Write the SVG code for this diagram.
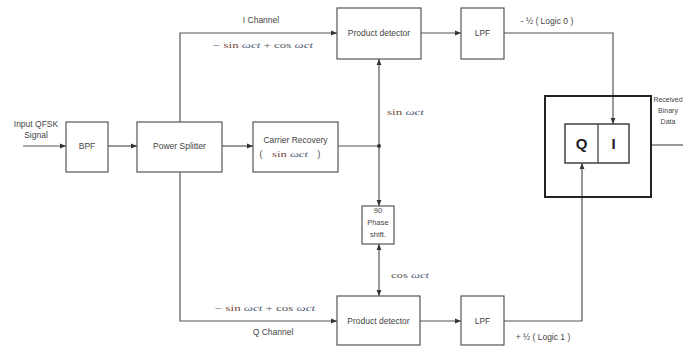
<svg xmlns="http://www.w3.org/2000/svg" width="683" height="347" viewBox="0 0 683 347">
<defs>
<marker id="ah" viewBox="0 0 10 10" refX="10" refY="5" markerWidth="6" markerHeight="6" orient="auto-start-reverse" markerUnits="userSpaceOnUse">
<path d="M0,1 L10,5 L0,9 z" fill="#333"/>
</marker>
<style>
.box{fill:#fff;stroke:#555;stroke-width:1.2}
.big{fill:none;stroke:#222;stroke-width:2}
.ln{fill:none;stroke:#555;stroke-width:1.2}
.t{font-family:"Liberation Sans",Arial,sans-serif;font-size:8.5px;fill:#444;text-anchor:middle}
.f{font-family:"Liberation Serif","Times New Roman",serif;font-size:8.5px;fill:#555}
.fi{font-style:italic;fill:#4a5878}
.s{fill:#7a4a40}
.qi{font-family:"Liberation Sans",Arial,sans-serif;font-size:15px;font-weight:bold;fill:#222;text-anchor:middle}
</style>
</defs>
<rect width="683" height="347" fill="#fff"/>
<g id="connectors">
<path class="ln" d="M23,146 H66" marker-end="url(#ah)"/>
<path class="ln" d="M108,146 H137" marker-end="url(#ah)"/>
<path class="ln" d="M222,146 H253" marker-end="url(#ah)"/>
<path class="ln" d="M180,122 V33 H337" marker-end="url(#ah)"/>
<path class="ln" d="M180,172 V321 H337" marker-end="url(#ah)"/>
<path class="ln" d="M338,146 H379"/>
<path class="ln" d="M379,146 V59" marker-end="url(#ah)"/>
<path class="ln" d="M379,146 V206" marker-end="url(#ah)"/>
<path class="ln" d="M379,244 V296" marker-start="url(#ah)" marker-end="url(#ah)"/>
<path class="ln" d="M421,33 H461" marker-end="url(#ah)"/>
<path class="ln" d="M420,321 H461" marker-end="url(#ah)"/>
<path class="ln" d="M504,33 H613 V124" marker-end="url(#ah)"/>
<path class="ln" d="M504,321 H582 V163" marker-end="url(#ah)"/>
<path class="ln" d="M651,145 H683"/>
<circle cx="379" cy="146" r="2" fill="#333"/>
</g>
<g id="input-label">
<text class="t" x="36" y="127">Input QFSK</text>
<text class="t" x="36" y="138">Signal</text>
</g>
<g id="bpf">
<rect class="box" x="66" y="122" width="42" height="50"/>
<text class="t" x="87" y="149">BPF</text>
</g>
<g id="power-splitter">
<rect class="box" x="137" y="122" width="85" height="50"/>
<text class="t" x="179.5" y="149">Power Splitter</text>
</g>
<g id="carrier-recovery">
<rect class="box" x="253" y="122" width="85" height="50"/>
<text class="t" x="295.5" y="143">Carrier Recovery</text>
<text class="t" x="261" y="157">(</text>
<text class="f" x="272" y="157" textLength="36" lengthAdjust="spacingAndGlyphs"><tspan class="s">sin</tspan> <tspan class="fi">ωct</tspan></text>
<text class="t" x="319" y="157">)</text>
</g>
<g id="product-detector-i">
<rect class="box" x="337" y="8" width="84" height="51"/>
<text class="t" x="379" y="36">Product detector</text>
</g>
<g id="lpf-i">
<rect class="box" x="461" y="8" width="43" height="51"/>
<text class="t" x="482.5" y="36">LPF</text>
</g>
<g id="phase-shift">
<rect class="box" x="362" y="206" width="32" height="38"/>
<text class="t" x="378" y="213" style="font-size:7.5px">90</text>
<text class="t" x="378" y="225" style="font-size:7.5px">Phase</text>
<text class="t" x="378" y="237" style="font-size:7.5px">shift.</text>
</g>
<g id="product-detector-q">
<rect class="box" x="337" y="296" width="83" height="49"/>
<text class="t" x="378.5" y="324">Product detector</text>
</g>
<g id="lpf-q">
<rect class="box" x="461" y="296" width="43" height="49"/>
<text class="t" x="482.5" y="324">LPF</text>
</g>
<g id="decision">
<rect class="big" x="545" y="96" width="106" height="101"/>
<rect class="box" x="565" y="124" width="64" height="39" style="stroke:#333;stroke-width:1.4"/>
<line x1="598" y1="124" x2="598" y2="163" stroke="#333" stroke-width="1.2"/>
<text class="qi" x="581.5" y="149">Q</text>
<text class="qi" x="613.5" y="149">I</text>
</g>
<g id="output-label">
<text class="t" x="668" y="102" style="font-size:7px">Received</text>
<text class="t" x="668" y="113" style="font-size:7px">Binary</text>
<text class="t" x="668" y="124" style="font-size:7px">Data</text>
</g>
<g id="labels">
<text class="t" x="261" y="23">I Channel</text>
<text class="f" x="213" y="48" textLength="100" lengthAdjust="spacingAndGlyphs"><tspan fill="#333">−</tspan> <tspan class="s">sin</tspan> <tspan class="fi">ωct</tspan> + cos <tspan class="fi">ωct</tspan></text>
<text class="f" x="387" y="115" textLength="37" lengthAdjust="spacingAndGlyphs"><tspan class="s">sin</tspan> <tspan class="fi">ωct</tspan></text>
<text class="f" x="391" y="278" textLength="38" lengthAdjust="spacingAndGlyphs">cos <tspan class="fi">ωct</tspan></text>
<text class="f" x="215" y="311" textLength="100" lengthAdjust="spacingAndGlyphs"><tspan fill="#333">−</tspan> <tspan class="s">sin</tspan> <tspan class="fi">ωct</tspan> + cos <tspan class="fi">ωct</tspan></text>
<text class="t" x="273" y="335">Q Channel</text>
<text class="t" x="547" y="24">- ½ ( Logic 0 )</text>
<text class="t" x="543" y="340">+ ½ ( Logic 1 )</text>
</g>
</svg>
